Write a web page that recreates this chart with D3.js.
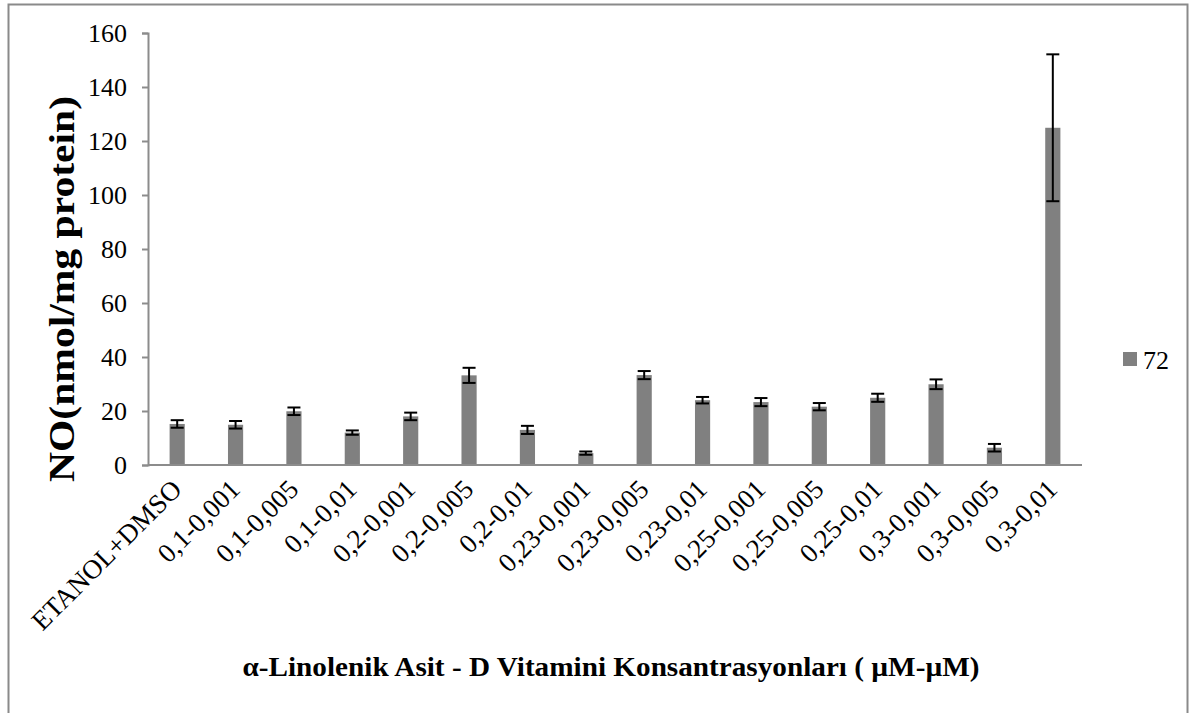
<!DOCTYPE html>
<html>
<head>
<meta charset="utf-8">
<script src="https://cdn.jsdelivr.net/npm/d3@7"></script>
<style>
  html, body { margin: 0; padding: 0; background: #fff; }
  svg { display: block; }
  text { font-family: "Liberation Serif", "Times New Roman", serif; fill: #000; }
</style>
</head>
<body>
<svg id="chart" width="1194" height="713"></svg>
<script>
// Concentration groups (α-linolenic acid µM - vitamin D µM)
const categories = [
  "ETANOL+DMSO", "0,1-0,001", "0,1-0,005", "0,1-0,01",
  "0,2-0,001", "0,2-0,005", "0,2-0,01", "0,23-0,001",
  "0,23-0,005", "0,23-0,01", "0,25-0,001", "0,25-0,005",
  "0,25-0,01", "0,3-0,001", "0,3-0,005", "0,3-0,01"
];
// NO levels at 72 h (nmol/mg protein)
const values72 = [15.2, 14.9, 19.9, 12.0, 18.0, 33.2, 13.0, 4.4,
                  33.3, 24.0, 23.3, 21.6, 24.9, 29.9, 6.4, 124.9];
// standard error of each group
const errors72 = [1.4, 1.4, 1.4, 0.8, 1.4, 2.8, 1.5, 0.6,
                  1.5, 1.2, 1.5, 1.35, 1.5, 1.8, 1.4, 27.2];
const yTicks = [0, 20, 40, 60, 80, 100, 120, 140, 160];
const seriesName = "72";
const yTitle = "NO(nmol/mg protein)";
const xTitle = "α-Linolenik Asit - D Vitamini Konsantrasyonları ( µM-µM)";

const svg = d3.select("#chart");
const plot = { left: 148, right: 1082, top: 33, bottom: 465 };

// outer chart frame
svg.append("rect")
  .attr("x", 8.5).attr("y", 4.5)
  .attr("width", 1179).attr("height", 740)
  .attr("fill", "none").attr("stroke", "#8a8a8a").attr("stroke-width", 2);

const x = d3.scaleBand()
  .domain(categories)
  .range([plot.left, plot.right])
  .paddingInner(0.74).paddingOuter(0.37);

const y = d3.scaleLinear()
  .domain([0, 160])
  .range([plot.bottom, plot.top]);

// y axis
const yAxis = svg.append("g")
  .attr("transform", `translate(${plot.left},0)`)
  .call(d3.axisLeft(y).tickValues(yTicks).tickSize(6).tickPadding(15).tickFormat(d3.format("d")));
yAxis.select(".domain").attr("stroke", "#8c8c8c").attr("stroke-width", 2);
yAxis.selectAll(".tick line").attr("stroke", "#8c8c8c").attr("stroke-width", 2);
yAxis.selectAll(".tick text")
  .attr("font-size", 26)
  .attr("font-family", "Liberation Serif, serif")
  .attr("fill", "#000");

// bars
svg.append("g").selectAll("rect")
  .data(categories)
  .join("rect")
  .attr("x", d => x(d))
  .attr("width", x.bandwidth())
  .attr("y", (d, i) => y(values72[i]))
  .attr("height", (d, i) => y(0) - y(values72[i]))
  .attr("fill", "#808080");

// x axis
const xAxis = svg.append("g")
  .attr("transform", `translate(0,${plot.bottom})`)
  .call(d3.axisBottom(x).tickSize(0).tickPadding(0));
xAxis.select(".domain").attr("stroke", "#8c8c8c").attr("stroke-width", 2)
  .attr("d", `M${plot.left},0H${plot.right}`);
xAxis.selectAll(".tick text")
  .attr("font-size", 27)
  .attr("font-family", "Liberation Serif, serif")
  .attr("fill", "#000")
  .attr("text-anchor", "end")
  .attr("dy", "0")
  .attr("transform", "translate(6,26) rotate(-45)");

// error bars
const eb = svg.append("g").attr("stroke", "#000").attr("stroke-width", 2);
const cap = 6.5;
categories.forEach((c, i) => {
  const cx = x(c) + x.bandwidth() / 2;
  const hi = y(values72[i] + errors72[i]);
  const lo = y(values72[i] - errors72[i]);
  eb.append("line").attr("x1", cx).attr("x2", cx).attr("y1", hi).attr("y2", lo);
  eb.append("line").attr("x1", cx - cap).attr("x2", cx + cap).attr("y1", hi).attr("y2", hi);
  eb.append("line").attr("x1", cx - cap).attr("x2", cx + cap).attr("y1", lo).attr("y2", lo);
});

// axis titles
svg.append("text")
  .attr("transform", `translate(74,289) rotate(-90)`)
  .attr("text-anchor", "middle")
  .attr("font-size", 35)
  .attr("font-weight", "bold")
  .attr("textLength", 386)
  .attr("lengthAdjust", "spacingAndGlyphs")
  .text(yTitle);

svg.append("text")
  .attr("x", 611).attr("y", 676)
  .attr("text-anchor", "middle")
  .attr("font-size", 27)
  .attr("font-weight", "bold")
  .attr("textLength", 737)
  .attr("lengthAdjust", "spacingAndGlyphs")
  .text(xTitle);

// legend
const lg = svg.append("g").attr("transform", "translate(1123,352)");
lg.append("rect").attr("width", 14).attr("height", 14).attr("fill", "#808080");
lg.append("text").attr("x", 20).attr("y", 17).attr("font-size", 26).text(seriesName);
</script>
</body>
</html>
